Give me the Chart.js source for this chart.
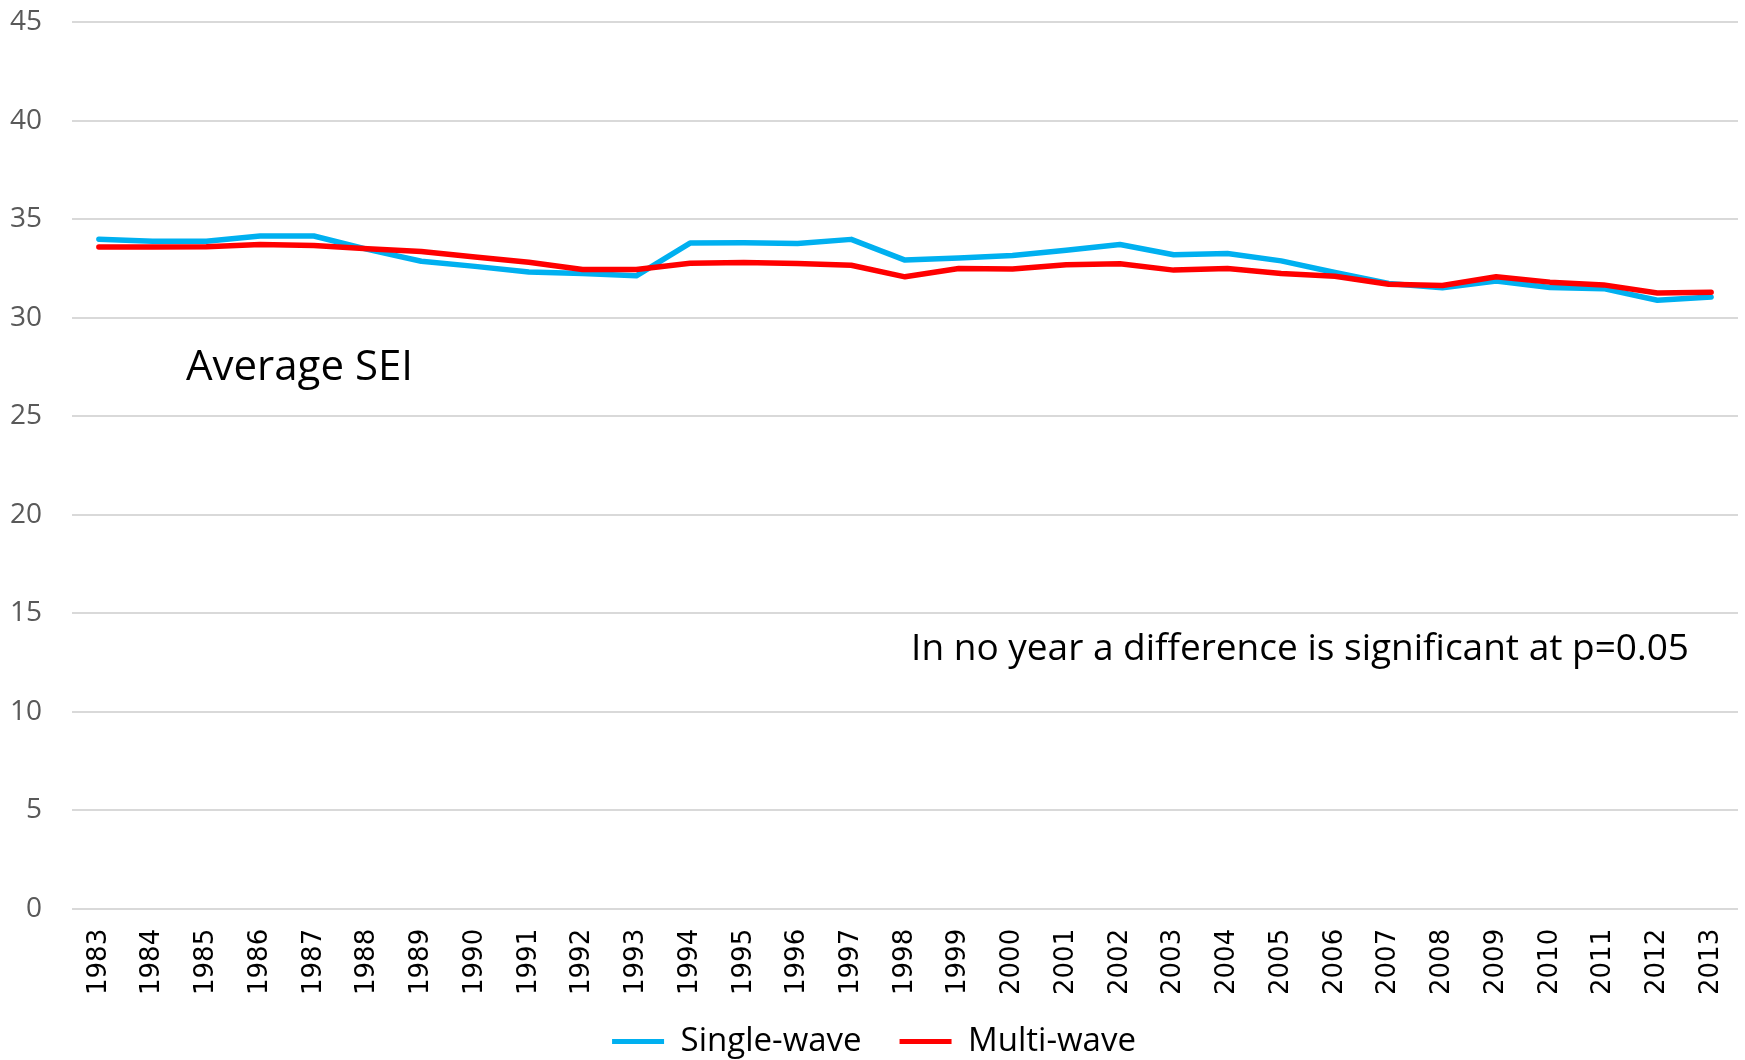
<!DOCTYPE html>
<html lang="en">
<head>
    <meta charset="UTF-8">
    <title>Average SEI</title>
    <script src="https://cdn.jsdelivr.net/npm/chart.js"></script>
    <style>
        body {
            margin: 0;
            background: #fff;
        }
        #chart {
            display: block;
        }
    </style>
</head>
<body>
    <canvas id="chart" width="1745" height="1060"></canvas>

    <script>
        const years = ['1983', '1984', '1985', '1986', '1987', '1988', '1989', '1990', '1991', '1992',
            '1993', '1994', '1995', '1996', '1997', '1998', '1999', '2000', '2001', '2002',
            '2003', '2004', '2005', '2006', '2007', '2008', '2009', '2010', '2011', '2012', '2013'];
        const singleWave = [33.98, 33.88, 33.88, 34.14, 34.14, 33.46, 32.86, 32.6, 32.32, 32.24,
            32.12, 33.78, 33.8, 33.76, 33.97, 32.92, 33.03, 33.15, 33.42, 33.71,
            33.19, 33.25, 32.88, 32.29, 31.73, 31.51, 31.86, 31.53, 31.47, 30.88, 31.05];
        const multiWave = [33.58, 33.58, 33.6, 33.71, 33.66, 33.49, 33.36, 33.07, 32.81, 32.44,
            32.44, 32.76, 32.8, 32.75, 32.66, 32.07, 32.49, 32.47, 32.68, 32.73,
            32.41, 32.49, 32.24, 32.1, 31.69, 31.63, 32.07, 31.8, 31.66, 31.25, 31.29];
        const seriesNames = ['Single-wave', 'Multi-wave'];
        const yMin = 0, yMax = 45, yStep = 5;

        // the two text notes inside the plot
        const notes = {
            id: 'notes',
            afterDatasetsDraw(chart) {
                const ctx = chart.ctx;
                const area = chart.chartArea;
                const y = chart.scales.y;
                ctx.save();
                ctx.fillStyle = '#000';
                ctx.textBaseline = 'middle';
                ctx.font = '42px "Open Sans"';
                ctx.textAlign = 'left';
                ctx.fillText('Average SEI', area.left + 114, y.getPixelForValue(27.45));
                ctx.font = '37px "Open Sans"';
                ctx.textAlign = 'right';
                ctx.fillText('In no year a difference is significant at p=0.05', area.right - 49, y.getPixelForValue(13.15));
                ctx.restore();
            }
        };

        // small legend box in the layout, then stretched upwards so the text sits right
        const legendHeight = {
            id: 'legendHeight',
            beforeInit(chart) {
                const fit = chart.legend.fit;
                chart.legend.fit = function () {
                    fit.call(this);
                    this.height = 53;
                };
            },
            afterLayout(chart) {
                chart.legend.top -= 20;
                chart.legend.height += 20;
            }
        };

        new Chart(document.getElementById('chart'), {
            type: 'line',
            data: {
                labels: years,
                datasets: [{
                    label: seriesNames[0],
                    data: singleWave,
                    borderColor: '#00B0F0',
                    backgroundColor: '#00B0F0',
                    borderWidth: 5.5,
                    pointRadius: 0,
                    tension: 0,
                    borderCapStyle: 'round',
                    borderJoinStyle: 'round',
                    order: 1
                }, {
                    label: seriesNames[1],
                    data: multiWave,
                    borderColor: '#FF0000',
                    backgroundColor: '#FF0000',
                    borderWidth: 5.5,
                    pointRadius: 0,
                    tension: 0,
                    borderCapStyle: 'round',
                    borderJoinStyle: 'round',
                    order: 0
                }]
            },
            options: {
                responsive: false,
                animation: false,
                layout: {
                    padding: { left: 10, right: 7, top: 22, bottom: 0 }
                },
                scales: {
                    x: {
                        offset: true,
                        grid: { display: false },
                        border: { display: false },
                        ticks: {
                            minRotation: 90,
                            maxRotation: 90,
                            autoSkip: false,
                            padding: 12,
                            color: '#000',
                            font: { family: 'DejaVu Sans', size: 26 }
                        },
                        afterFit(scale) {
                            scale.paddingLeft = 0;
                            scale.paddingRight = 0;
                        }
                    },
                    y: {
                        min: yMin,
                        max: yMax,
                        border: { display: false },
                        grid: { color: '#d9d9d9', lineWidth: 2, drawTicks: false },
                        ticks: {
                            stepSize: yStep,
                            padding: 30,
                            color: '#595959',
                            font: { family: 'Open Sans', size: 28 }
                        },
                        afterFit(scale) {
                            scale.width = 62;
                            scale.paddingTop = 0;
                            scale.paddingBottom = 0;
                        }
                    }
                },
                plugins: {
                    tooltip: { enabled: false },
                    legend: {
                        position: 'bottom',
                        labels: {
                            boxWidth: 52,
                            boxHeight: 5,
                            padding: 38,
                            color: '#000',
                            font: { family: 'Open Sans', size: 33 },
                            sort: (a, b) => a.datasetIndex - b.datasetIndex,
                            generateLabels(chart) {
                                const items = Chart.defaults.plugins.legend.labels.generateLabels(chart);
                                items.forEach(item => {
                                    item.fillStyle = item.strokeStyle;
                                    item.lineWidth = 0;
                                });
                                return items;
                            }
                        }
                    }
                }
            },
            plugins: [notes, legendHeight]
        });
    </script>
</body>
</html>
